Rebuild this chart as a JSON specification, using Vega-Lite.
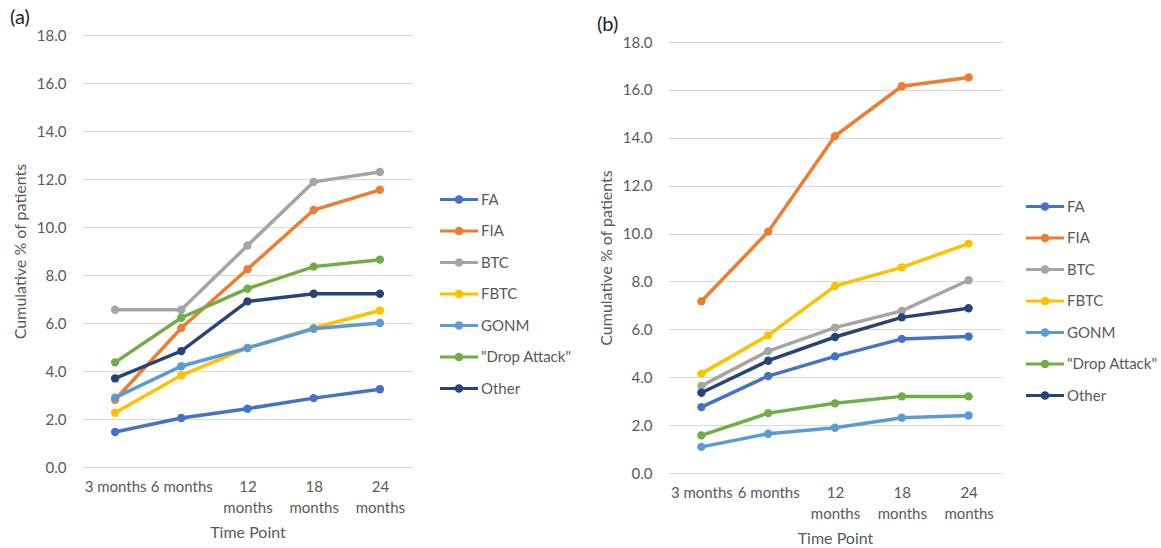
{
  "$schema": "https://vega.github.io/schema/vega-lite/v6.json",
  "background": "white",
  "padding": {"left": 10, "top": 8, "right": 0, "bottom": 0},
  "bounds": "flush",
  "spacing": 255,
  "config": {
    "font": "Lato",
    "view": {"stroke": null},
    "axis": {
      "labelFont": "Lato", "titleFont": "Lato",
      "labelColor": "#595959", "titleColor": "#595959",
      "labelFontSize": 15, "titleFontSize": 16, "titleFontWeight": "normal",
      "ticks": false, "tickSize": 0, "domain": false,
      "gridColor": "#d9d9d9", "gridWidth": 1
    },
    "legend": {
      "labelFont": "Lato", "labelFontSize": 15, "labelColor": "#595959"
    }
  },
  "resolve": {"scale": {"color": "independent", "x": "independent", "y": "independent"}, "legend": {"color": "independent"}},
  "datasets": {
    "a": [
      {"series": "FA", "time": "3 months", "value": 1.46},
      {"series": "FA", "time": "6 months", "value": 2.04},
      {"series": "FA", "time": "12 months", "value": 2.43},
      {"series": "FA", "time": "18 months", "value": 2.87},
      {"series": "FA", "time": "24 months", "value": 3.24},
      {"series": "FIA", "time": "3 months", "value": 2.8},
      {"series": "FIA", "time": "6 months", "value": 5.79},
      {"series": "FIA", "time": "12 months", "value": 8.24},
      {"series": "FIA", "time": "18 months", "value": 10.71},
      {"series": "FIA", "time": "24 months", "value": 11.55},
      {"series": "BTC", "time": "3 months", "value": 6.55},
      {"series": "BTC", "time": "6 months", "value": 6.55},
      {"series": "BTC", "time": "12 months", "value": 9.23},
      {"series": "BTC", "time": "18 months", "value": 11.88},
      {"series": "BTC", "time": "24 months", "value": 12.29},
      {"series": "FBTC", "time": "3 months", "value": 2.26},
      {"series": "FBTC", "time": "6 months", "value": 3.82},
      {"series": "FBTC", "time": "12 months", "value": 4.96},
      {"series": "FBTC", "time": "18 months", "value": 5.79},
      {"series": "FBTC", "time": "24 months", "value": 6.52},
      {"series": "GONM", "time": "3 months", "value": 2.89},
      {"series": "GONM", "time": "6 months", "value": 4.2},
      {"series": "GONM", "time": "12 months", "value": 4.96},
      {"series": "GONM", "time": "18 months", "value": 5.76},
      {"series": "GONM", "time": "24 months", "value": 6.0},
      {"series": "\"Drop Attack\"", "time": "3 months", "value": 4.36},
      {"series": "\"Drop Attack\"", "time": "6 months", "value": 6.22},
      {"series": "\"Drop Attack\"", "time": "12 months", "value": 7.43},
      {"series": "\"Drop Attack\"", "time": "18 months", "value": 8.35},
      {"series": "\"Drop Attack\"", "time": "24 months", "value": 8.64},
      {"series": "Other", "time": "3 months", "value": 3.69},
      {"series": "Other", "time": "6 months", "value": 4.83},
      {"series": "Other", "time": "12 months", "value": 6.9},
      {"series": "Other", "time": "18 months", "value": 7.22},
      {"series": "Other", "time": "24 months", "value": 7.22}
    ],
    "b": [
      {"series": "FA", "time": "3 months", "value": 2.75},
      {"series": "FA", "time": "6 months", "value": 4.05},
      {"series": "FA", "time": "12 months", "value": 4.87},
      {"series": "FA", "time": "18 months", "value": 5.6},
      {"series": "FA", "time": "24 months", "value": 5.7},
      {"series": "FIA", "time": "3 months", "value": 7.17},
      {"series": "FIA", "time": "6 months", "value": 10.08},
      {"series": "FIA", "time": "12 months", "value": 14.07},
      {"series": "FIA", "time": "18 months", "value": 16.15},
      {"series": "FIA", "time": "24 months", "value": 16.52},
      {"series": "BTC", "time": "3 months", "value": 3.64},
      {"series": "BTC", "time": "6 months", "value": 5.09},
      {"series": "BTC", "time": "12 months", "value": 6.07},
      {"series": "BTC", "time": "18 months", "value": 6.77},
      {"series": "BTC", "time": "24 months", "value": 8.05},
      {"series": "FBTC", "time": "3 months", "value": 4.15},
      {"series": "FBTC", "time": "6 months", "value": 5.75},
      {"series": "FBTC", "time": "12 months", "value": 7.81},
      {"series": "FBTC", "time": "18 months", "value": 8.59},
      {"series": "FBTC", "time": "24 months", "value": 9.58},
      {"series": "GONM", "time": "3 months", "value": 1.09},
      {"series": "GONM", "time": "6 months", "value": 1.64},
      {"series": "GONM", "time": "12 months", "value": 1.89},
      {"series": "GONM", "time": "18 months", "value": 2.31},
      {"series": "GONM", "time": "24 months", "value": 2.4},
      {"series": "\"Drop Attack\"", "time": "3 months", "value": 1.57},
      {"series": "\"Drop Attack\"", "time": "6 months", "value": 2.5},
      {"series": "\"Drop Attack\"", "time": "12 months", "value": 2.91},
      {"series": "\"Drop Attack\"", "time": "18 months", "value": 3.2},
      {"series": "\"Drop Attack\"", "time": "24 months", "value": 3.2},
      {"series": "Other", "time": "3 months", "value": 3.35},
      {"series": "Other", "time": "6 months", "value": 4.69},
      {"series": "Other", "time": "12 months", "value": 5.68},
      {"series": "Other", "time": "18 months", "value": 6.5},
      {"series": "Other", "time": "24 months", "value": 6.88}
    ]
  },
  "hconcat": [
    {
      "data": {"name": "a"},
      "width": 331,
      "height": 432,
      "title": {"text": "(a)", "anchor": "start", "frame": "group", "dx": -72, "offset": 0, "fontSize": 20, "fontWeight": "normal", "color": "#222222", "font": "Lato"},
      "mark": {"type": "line", "strokeWidth": 3.5, "point": {"filled": true, "size": 70}},
      "encoding": {
        "x": {"field": "time", "type": "ordinal", "sort": ["3 months", "6 months", "12 months", "18 months", "24 months"],
          "scale": {"type": "point", "padding": 0.5},
          "axis": {"title": "Time Point", "labelAngle": 0, "labelPadding": 12, "labelLineHeight": 21, "titlePadding": 9, "grid": false,
            "labelExpr": "length(datum.label) > 8 ? split(datum.label, ' ') : datum.label"}},
        "y": {"field": "value", "type": "quantitative", "scale": {"domain": [0, 18]},
          "axis": {"title": "Cumulative % of patients", "values": [0,2,4,6,8,10,12,14,16,18], "format": ".1f", "labelPadding": 16, "titlePadding": 8, "grid": true}},
        "color": {"field": "series", "type": "nominal",
          "scale": {"domain": ["FA", "FIA", "BTC", "FBTC", "GONM", "\"Drop Attack\"", "Other"],
            "range": ["#4472C4", "#ED7D31", "#A5A5A5", "#FFC000", "#5B9BD5", "#70AD47", "#264478"]},
          "legend": {"title": null, "orient": "none", "legendX": 366, "legendY": 153.5,
            "symbolType": "M-2,0H2M-0.3,0A0.3,0.3,0,1,0,0.3,0A0.3,0.3,0,1,0,-0.3,0",
            "symbolSize": 361, "symbolStrokeWidth": 3, "labelOffset": 11, "rowPadding": 11.5}}
      }
    },
    {
      "data": {"name": "b"},
      "width": 334,
      "height": 438,
      "title": {"text": "(b)", "anchor": "start", "frame": "group", "dx": -71, "offset": 0, "fontSize": 20, "fontWeight": "normal", "color": "#222222", "font": "Lato"},
      "mark": {"type": "line", "strokeWidth": 3.5, "point": {"filled": true, "size": 70}},
      "encoding": {
        "x": {"field": "time", "type": "ordinal", "sort": ["3 months", "6 months", "12 months", "18 months", "24 months"],
          "scale": {"type": "point", "padding": 0.5},
          "axis": {"title": "Time Point", "labelAngle": 0, "labelPadding": 12, "labelLineHeight": 21, "titlePadding": 9, "grid": false,
            "labelExpr": "length(datum.label) > 8 ? split(datum.label, ' ') : datum.label"}},
        "y": {"field": "value", "type": "quantitative", "scale": {"domain": [0, 18], "range": [438, 7]},
          "axis": {"title": "Cumulative % of patients", "values": [0,2,4,6,8,10,12,14,16,18], "format": ".1f", "labelPadding": 16, "titlePadding": 8, "grid": true}},
        "color": {"field": "series", "type": "nominal",
          "scale": {"domain": ["FA", "FIA", "BTC", "FBTC", "GONM", "\"Drop Attack\"", "Other"],
            "range": ["#4472C4", "#ED7D31", "#A5A5A5", "#FFC000", "#5B9BD5", "#70AD47", "#264478"]},
          "legend": {"title": null, "orient": "none", "legendX": 366, "legendY": 160.5,
            "symbolType": "M-2,0H2M-0.3,0A0.3,0.3,0,1,0,0.3,0A0.3,0.3,0,1,0,-0.3,0",
            "symbolSize": 361, "symbolStrokeWidth": 3, "labelOffset": 11, "rowPadding": 11.5}}
      }
    }
  ]
}
